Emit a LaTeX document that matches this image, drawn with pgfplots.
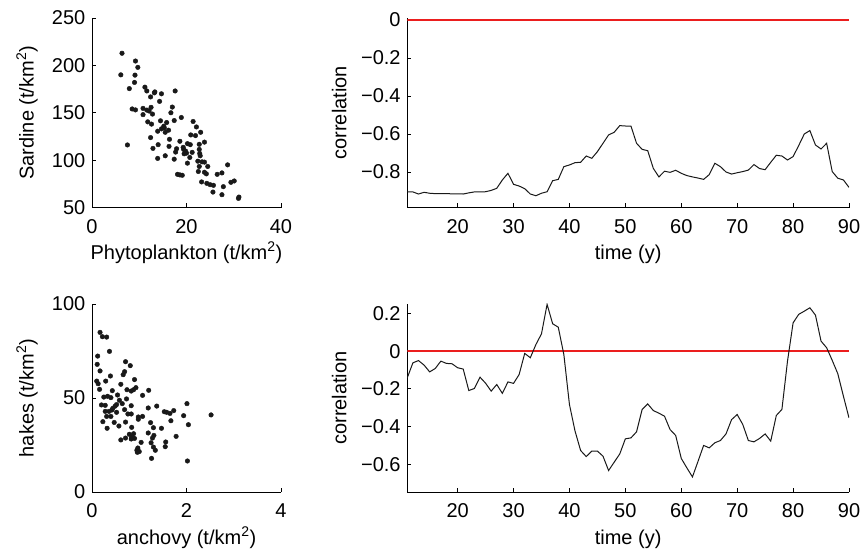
\documentclass[border=0pt]{standalone}
\usepackage{fontspec}
\setmainfont{Liberation Sans}
\usepackage{pgfplots}
\pgfplotsset{compat=1.18}
\definecolor{zred}{RGB}{235,30,30}
\definecolor{curvecol}{RGB}{25,25,25}
\pgfplotsset{
 panel/.style={scale only axis, anchor=south west, axis x line=bottom, axis y line=left,
   axis line style={-, line width=0.9pt, black},
   tick align=inside, major tick length=4pt, tick style={line width=0.8pt, black},
   font=\fontsize{20}{24}\selectfont,
   /pgf/number format/assume math mode=true,
   xticklabel style={anchor=base, inner sep=0pt, yshift=-25.5pt},
   yticklabel style={anchor=east, inner sep=0pt, xshift=-6.5pt},
   xlabel style={at={(axis description cs:0.5,0)}, anchor=base, yshift=-52pt, inner sep=0pt},
 },
 dots/.style={only marks, mark=*, mark size=2.3pt, curvecol, mark options={fill=curvecol, draw=none}},
 curve/.style={curvecol, line width=1pt, mark=none},
}
\begin{document}
\begin{tikzpicture}
\path[use as bounding box] (0,0) rectangle (861pt,555pt);

% top-left scatter
\begin{axis}[panel, at={(92pt,347.5pt)}, width=189pt, height=189.5pt,
  xmin=0, xmax=40, ymin=50, ymax=250, xtick={0,20,40}, ytick={50,100,150,200,250},
  xlabel={Phytoplankton (t/km\textsuperscript{2})},
  ylabel={Sardine (t/km\textsuperscript{2})},
  ylabel style={at={(axis description cs:-0.344,0.5)}, anchor=center}]
\addplot[dots] coordinates {
(6.35,212.8)(9.2,204.6)(9.7,197.9)(6.1,190)(9.1,189.7)(9.0,182)(7.9,175.5)(11.2,177)
(11.6,173)(13.3,172)(13.2,171)(12.4,166.7)(14.7,170)(17.6,173)(14.3,162)(17.0,156)
(8.5,154)(9.2,153)(10.8,154.6)(11.6,152.8)(12.1,151.8)(12.5,155.7)(10.8,148)(12.8,148.6)
(16.7,150)(18.9,145)(11.8,140.4)(12.6,138)(14.5,141.5)(15.8,139.7)(15.2,135.8)(14.7,133)
(15.3,134)(16.2,131.6)(13.9,130.5)(15.5,129.4)(17.4,141.8)(21.4,140.8)(22.1,135)(20.9,126.6)
(21.9,125.9)(23.0,129.4)(12.4,123.8)(16.4,122)(18.6,119.9)(7.5,116)(14.0,116.3)(16.3,114.5)
(12.9,112.4)(17.9,112)(17.7,108.5)(19.3,113.5)(19.4,111.3)(19.8,109.6)(19.5,106.7)(20.0,107.4)
(20.2,117.4)(20.8,116.3)(21.2,108.2)(20.7,102.8)(22.7,116.7)(23.8,119)(22.7,111.3)(22.8,107)
(22.9,104.6)(22.4,98.9)(23.3,98.2)(23.8,97.9)(15.5,104.6)(13.9,101.8)(17.4,101)(20.2,96.8)
(22.7,93.3)(24.5,93.3)(22.5,88)(23.8,87.2)(24.2,85.5)(28.7,95)(26.5,85)(27.5,86.5)
(18.1,85)(18.6,84.4)(19.1,84)(23.2,77)(24.3,75.5)(25.0,74.1)(25.7,73.4)(29.4,76.6)
(30.1,78)(25.6,66.3)(27.8,72)(27.5,63.5)(31.0,59.6)(31.1,61)
};
\end{axis}

% bottom-left scatter
\begin{axis}[panel, at={(92pt,63pt)}, width=189pt, height=188pt,
  xmin=0, xmax=4, ymin=0, ymax=100, xtick={0,2,4}, ytick={0,50,100},
  xlabel={anchovy (t/km\textsuperscript{2})},
  ylabel={hakes (t/km\textsuperscript{2})},
  ylabel style={at={(axis description cs:-0.344,0.5)}, anchor=center}]
\addplot[dots] coordinates {
(0.17,84.9)(0.22,82.6)(0.31,82.4)(0.37,74.8)(0.12,72.3)(0.11,67.9)(0.17,64.4)(0.71,69.3)
(0.81,67.2)(0.69,64)(0.66,62.4)(0.39,61.7)(0.10,59)(0.29,59)(0.13,57.6)(0.90,59.8)
(0.61,57.3)(0.16,54.6)(0.43,53.9)(0.74,54.4)(0.83,53.7)(0.88,54.4)(0.93,55.5)(1.20,54.1)
(1.07,51.4)(0.54,51.6)(0.25,50.5)(0.33,50.9)(0.40,50.2)(0.73,49.5)(0.58,48.8)(0.64,47)
(0.20,46.3)(0.28,46.1)(0.49,45.7)(0.52,46.5)(0.44,44.5)(0.42,43.6)(0.69,43.8)(0.83,45.9)
(1.37,45.7)(1.19,44.7)(0.28,42.9)(0.36,42.9)(0.52,42.4)(0.40,40.2)(0.31,40.2)(0.76,41.5)
(0.83,41.5)(1.53,42.7)(1.58,42.4)(1.65,41.8)(1.73,43.3)(2.01,47)(1.94,40.6)(2.52,41)
(0.98,39.9)(1.07,40.2)(0.98,38.7)(0.23,37.4)(0.47,37)(0.71,37.2)(1.24,36.9)(1.67,37.9)
(2.04,35.8)(0.32,33.9)(0.57,35.1)(0.84,34.4)(1.30,34.2)(1.47,33.9)(1.19,31.4)(1.31,30.1)
(1.28,28.7)(0.79,30.7)(0.88,31)(0.84,29.1)(0.90,28.5)(0.83,28.2)(0.71,28.7)(0.61,27.7)
(1.78,29.6)(1.56,26.6)(1.55,24.1)(1.04,26.4)(1.25,26.2)(1.30,23.9)(1.34,22.2)(0.97,23.4)
(0.95,22.2)(1.0,21.5)(0.96,21.1)(1.26,17.9)(2.02,16.5)
};
\end{axis}

% top-right correlation
\begin{axis}[panel, at={(407.3pt,347.5pt)}, width=441.7pt, height=189.5pt,
  xmin=11, xmax=90, ymin=-0.987, ymax=0.0105,
  xtick={20,30,40,50,60,70,80,90},
  ytick={-0.8,-0.6,-0.4,-0.2,0}, yticklabels={−0.8,−0.6,−0.4,−0.2,0},
  xlabel={time (y)}, ylabel={correlation},
  ylabel style={at={(axis description cs:-0.154,0.5)}, anchor=center}]
\addplot[curve] coordinates {
(11,-0.904)(12,-0.905)(13,-0.916)(14,-0.907)(15,-0.912)(16,-0.914)(17,-0.914)(18,-0.914)
(19,-0.915)(20,-0.915)(21,-0.916)(22,-0.910)(23,-0.905)(24,-0.905)(25,-0.904)(26,-0.897)
(27,-0.886)(28,-0.842)(29,-0.807)(30,-0.865)(31,-0.874)(32,-0.888)(33,-0.916)(34,-0.925)
(35,-0.912)(36,-0.904)(37,-0.846)(38,-0.839)(39,-0.772)(40,-0.763)(41,-0.751)(42,-0.749)
(43,-0.716)(44,-0.728)(45,-0.693)(46,-0.649)(47,-0.605)(48,-0.591)(49,-0.556)(50,-0.558)
(51,-0.558)(52,-0.649)(53,-0.681)(54,-0.688)(55,-0.781)(56,-0.826)(57,-0.796)(58,-0.802)
(59,-0.791)(60,-0.807)(61,-0.819)(62,-0.826)(63,-0.832)(64,-0.839)(65,-0.814)(66,-0.754)
(67,-0.772)(68,-0.800)(69,-0.811)(70,-0.804)(71,-0.798)(72,-0.790)(73,-0.761)(74,-0.782)
(75,-0.788)(76,-0.749)(77,-0.712)(78,-0.716)(79,-0.737)(80,-0.719)(81,-0.661)(82,-0.600)
(83,-0.582)(84,-0.658)(85,-0.679)(86,-0.649)(87,-0.798)(88,-0.833)(89,-0.842)(90,-0.881)
};
\addplot[draw=zred, line width=1.3pt, mark=none] coordinates {(11,0)(90,0)};
\end{axis}

% bottom-right correlation
\begin{axis}[panel, at={(407.3pt,63pt)}, width=441.7pt, height=188pt,
  xmin=11, xmax=90, ymin=-0.747, ymax=0.25,
  xtick={20,30,40,50,60,70,80,90},
  ytick={-0.6,-0.4,-0.2,0,0.2}, yticklabels={−0.6,−0.4,−0.2,0,0.2},
  xlabel={time (y)}, ylabel={correlation},
  ylabel style={at={(axis description cs:-0.154,0.5)}, anchor=center}]
\addplot[draw=zred, line width=1.8pt, mark=none] coordinates {(11,0)(90,0)};
\addplot[curve] coordinates {
(11,-0.141)(12,-0.062)(13,-0.050)(14,-0.074)(15,-0.110)(16,-0.092)(17,-0.053)(18,-0.065)
(19,-0.067)(20,-0.088)(21,-0.095)(22,-0.209)(23,-0.198)(24,-0.138)(25,-0.170)(26,-0.212)
(27,-0.177)(28,-0.224)(29,-0.163)(30,-0.171)(31,-0.124)(32,-0.012)(33,-0.035)(34,0.035)
(35,0.092)(36,0.248)(37,0.145)(38,0.127)(39,-0.018)(40,-0.283)(41,-0.424)(42,-0.527)
(43,-0.559)(44,-0.530)(45,-0.530)(46,-0.557)(47,-0.633)(48,-0.589)(49,-0.545)(50,-0.465)
(51,-0.460)(52,-0.428)(53,-0.309)(54,-0.280)(55,-0.315)(56,-0.329)(57,-0.345)(58,-0.416)
(59,-0.447)(60,-0.569)(61,-0.619)(62,-0.667)(63,-0.584)(64,-0.500)(65,-0.513)(66,-0.486)
(67,-0.474)(68,-0.439)(69,-0.363)(70,-0.336)(71,-0.389)(72,-0.474)(73,-0.481)(74,-0.463)
(75,-0.439)(76,-0.477)(77,-0.341)(78,-0.309)(79,-0.053)(80,0.150)(81,0.195)(82,0.212)
(83,0.230)(84,0.191)(85,0.053)(86,0.018)(87,-0.049)(88,-0.120)(89,-0.239)(90,-0.354)
};
\end{axis}
\end{tikzpicture}
\end{document}
